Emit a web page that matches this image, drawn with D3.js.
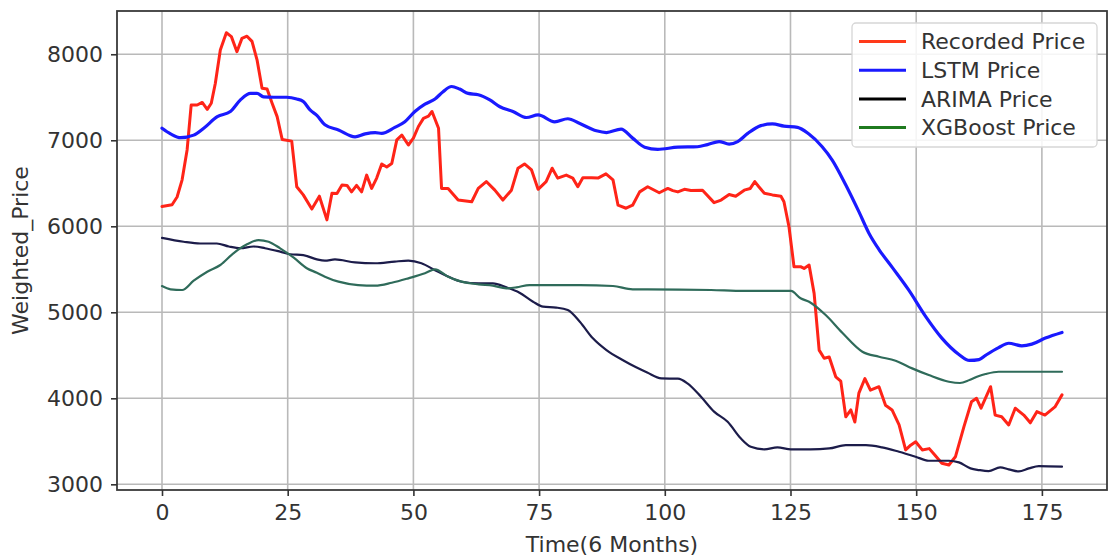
<!DOCTYPE html>
<html>
<head>
<meta charset="utf-8">
<script src="https://cdn.jsdelivr.net/npm/d3@7"></script>
<style>
  body { margin: 0; background: #fff; }
  svg { display: block; font-family: 'DejaVu Sans', sans-serif; }
</style>
</head>
<body>
<svg id="chart"></svg>
<script>
// values (time index, weighted price)
const recordedT = [0,2,3,4,5,5.8,7,8,9,9.8,10.6,11.6,12.8,13.8,14.9,15.9,16.9,17.9,18.9,19.9,20.9,21.9,22.9,23.9,25.8,26.8,28.1,29.8,31.3,32.8,33.8,34.8,35.8,36.8,37.7,38.7,39.7,40.7,41.7,42.7,43.7,44.7,45.7,46.7,47.7,49,50,51,52,53,53.7,55,55.6,56.9,58.9,61.6,62.9,64.5,66.2,67.8,69.5,70.8,72.1,73.5,74.8,76.4,77.6,78.7,80.4,81.7,82.7,83.7,85.4,86.7,88.3,89.7,90.7,92.3,93.6,95,96.6,98.9,100.6,101.6,102.6,103.9,105.2,107.5,109.8,111.2,112.8,114.1,115.8,117,117.9,118.7,119.8,121.4,123.1,123.7,124.7,125.7,127,127.7,128.7,129.7,130.7,131.7,132.7,134,135,136,137,137.8,138.6,139.8,140.9,142.6,143.9,145.2,146.6,147.9,148.9,149.9,151.2,152.6,153.7,155.1,156.5,157.8,159.5,161,162,162.9,164.8,165.7,167,168.4,169.7,171.4,172.7,174,175.6,177.6,179]
const recordedV = [6230,6250,6340,6540,6890,7410,7410,7440,7360,7430,7660,8050,8250,8205,8030,8185,8210,8150,7935,7605,7595,7430,7275,7010,6990,6460,6365,6200,6350,6075,6385,6380,6480,6475,6400,6475,6400,6595,6440,6560,6725,6690,6730,7005,7060,6945,7025,7160,7255,7280,7335,7140,6440,6440,6305,6285,6440,6520,6420,6305,6420,6675,6725,6655,6430,6520,6675,6560,6595,6560,6460,6565,6565,6560,6610,6540,6245,6210,6245,6400,6460,6390,6440,6415,6400,6430,6415,6420,6275,6305,6370,6350,6420,6440,6520,6460,6385,6365,6350,6285,5995,5530,5530,5510,5550,5220,4560,4465,4480,4250,4200,3785,3865,3725,4060,4230,4095,4135,3920,3865,3690,3400,3455,3495,3400,3415,3340,3245,3225,3320,3670,3960,4000,3885,4135,3805,3785,3690,3885,3805,3715,3845,3805,3900,4040]

const lstmT = [0,1.7,3.7,6.3,8.3,11,13.6,15.6,17.6,18.9,20.2,22.2,24.8,26.8,28.1,29.5,30.8,32.4,35.1,38.4,40.4,42.4,43.7,46.3,48.3,50.3,52.3,54.3,55.9,57.6,59.2,60.9,62.9,65.2,67.2,69.8,72.5,74.8,78.1,80.7,83.1,86.4,88.4,91.3,93.6,96,98.6,102.6,106.5,108.5,110.8,112.8,114.5,116.5,119.1,121.4,123.7,126.4,128.6,131.3,133.3,136,138.6,140.6,142.6,145.2,148.5,151.9,155.1,158.5,160.6,162.5,163.8,166.4,168.4,171,173,175.7,179]
const lstmV = [7140,7075,7030,7060,7140,7275,7335,7470,7545,7545,7505,7500,7500,7480,7450,7350,7290,7180,7120,7040,7075,7090,7080,7150,7215,7335,7420,7480,7565,7625,7595,7545,7530,7470,7390,7335,7265,7295,7215,7250,7195,7110,7090,7130,7025,6920,6895,6920,6925,6950,6985,6955,6985,7080,7170,7190,7165,7150,7075,6925,6770,6480,6170,5920,5730,5525,5260,4950,4700,4510,4440,4450,4500,4590,4640,4610,4630,4700,4765]

const arimaT = [0,4.3,7.6,10.9,13.3,15.6,18.2,20.5,23.5,25.5,28.1,30.8,32.4,34.4,38.4,42.4,46.3,49,51.6,54.3,56.9,59.6,63,65.8,68.5,71.1,73.8,75.8,78.4,80.7,83.1,85.7,88.4,91.6,94.3,96.5,99.3,102.6,104.5,107.2,109.8,112.5,115.1,117.1,119.8,122.4,125.1,129,132.7,136,140,143.2,146.6,149.9,152.5,156.5,158.5,160.8,162.5,164.4,166.7,168.4,170.4,172.4,174.4,179]
const arimaV = [5865,5820,5800,5800,5765,5745,5765,5745,5705,5675,5665,5615,5600,5615,5580,5570,5590,5600,5570,5490,5415,5355,5337,5337,5290,5228,5123,5065,5055,5026,4890,4697,4560,4445,4360,4300,4232,4228,4174,4018,3845,3727,3535,3437,3407,3430,3407,3407,3417,3456,3456,3430,3378,3321,3274,3274,3255,3185,3166,3154,3197,3174,3150,3185,3212,3205]

const xgbT = [0,1.7,4,6.3,9,11.6,14.2,16.9,19.2,21.2,23.5,26.2,28.8,30.8,32.4,35.1,39,42.4,45.7,49,52.3,54.3,56.9,59.6,63,65.8,68.5,70.5,73.1,76.4,83.1,89.7,93.6,96.5,109.2,115.8,125.1,127,128.7,132,135.3,139.3,142.6,145.9,149.2,152.5,156.5,158.7,160.6,162.5,163.8,166.4,171.7,179]
const xgbV = [5305,5267,5259,5367,5472,5550,5686,5790,5840,5821,5744,5635,5512,5460,5414,5356,5317,5310,5344,5395,5453,5500,5414,5356,5325,5310,5279,5290,5317,5317,5317,5306,5267,5267,5259,5248,5248,5163,5123,4968,4762,4542,4483,4437,4348,4270,4193,4178,4212,4260,4282,4309,4309,4309]

const seriesNames = ['Recorded Price', 'LSTM Price', 'ARIMA Price', 'XGBoost Price']
const xTicks = [0, 25, 50, 75, 100, 125, 150, 175]
const yTicks = [3000, 4000, 5000, 6000, 7000, 8000]

const W = 1110
const H = 559
const margin = {left: 117, top: 11, right: 3, bottom: 69}
const fontSize = 22
const tickColor = '#333'

let svg = d3.select('#chart').attr('width', W).attr('height', H)

let xScale = d3.scaleLinear().domain([-8.95, 187.95]).range([margin.left, W - margin.right])
let yScale = d3.scaleLinear().domain([2934, 8503]).range([H - margin.bottom, margin.top])

let zip = (ts, vs) => ts.map((t, i) => [t, vs[i]])

let series = [
  {name: seriesNames[0], data: zip(recordedT, recordedV), color: '#ff2418', width: 3, curve: d3.curveLinear},
  {name: seriesNames[1], data: zip(lstmT, lstmV), color: '#1a1aff', width: 3.2, curve: d3.curveMonotoneX},
  {name: seriesNames[2], data: zip(arimaT, arimaV), color: '#1c1c4a', width: 2.2, curve: d3.curveMonotoneX},
  {name: seriesNames[3], data: zip(xgbT, xgbV), color: '#2f6b5a', width: 2.2, curve: d3.curveMonotoneX}
]
let legendColors = ['#ff3a1a', '#1a1aff', '#000000', '#1f7a1f']

// grid
let grid = svg.append('g').classed('grid', true)
grid.selectAll('.vgrid').data(xTicks).enter().append('line')
  .attr('x1', d => xScale(d)).attr('x2', d => xScale(d))
  .attr('y1', margin.top).attr('y2', H - margin.bottom)
  .style('stroke', '#b9b9b9').style('stroke-width', 1.6)
grid.selectAll('.hgrid').data(yTicks).enter().append('line')
  .attr('x1', margin.left).attr('x2', W - margin.right)
  .attr('y1', d => yScale(d)).attr('y2', d => yScale(d))
  .style('stroke', '#b9b9b9').style('stroke-width', 1.6)

// lines
let plot = svg.append('g').classed('lines', true)
series.forEach(s => {
  let lineGenerator = d3.line()
    .x(d => xScale(d[0]))
    .y(d => yScale(d[1]))
    .curve(s.curve)
  plot.append('path')
    .attr('d', lineGenerator(s.data))
    .style('fill', 'none')
    .style('stroke', s.color)
    .style('stroke-width', s.width)
    .style('stroke-linejoin', 'round')
    .style('stroke-linecap', 'round')
})

// frame
svg.append('rect')
  .attr('x', margin.left).attr('y', margin.top)
  .attr('width', W - margin.left - margin.right)
  .attr('height', H - margin.top - margin.bottom)
  .style('fill', 'none').style('stroke', '#3a3a3a').style('stroke-width', 1.8)

// axes
let xAxis = svg.append('g')
  .attr('transform', `translate(0, ${H - margin.bottom})`)
  .call(d3.axisBottom(xScale).tickValues(xTicks).tickSize(6).tickPadding(8).tickFormat(d3.format('d')))
let yAxis = svg.append('g')
  .attr('transform', `translate(${margin.left}, 0)`)
  .call(d3.axisLeft(yScale).tickValues(yTicks).tickSize(6).tickPadding(8).tickFormat(d3.format('d')))
;[xAxis, yAxis].forEach(a => {
  a.select('.domain').remove()
  a.selectAll('.tick line').style('stroke', tickColor).style('stroke-width', 1.6)
  a.selectAll('.tick text')
    .style('font-size', fontSize + 'px')
    .style('font-family', 'DejaVu Sans')
    .style('fill', tickColor)
})

svg.append('text')
  .attr('x', (margin.left + W - margin.right) / 2)
  .attr('y', 552)
  .style('text-anchor', 'middle')
  .style('font-size', fontSize + 'px')
  .style('fill', tickColor)
  .text('Time(6 Months)')
svg.append('text')
  .attr('transform', `translate(28, ${(margin.top + H - margin.bottom) / 2}) rotate(-90)`)
  .style('text-anchor', 'middle')
  .style('font-size', fontSize + 'px')
  .style('fill', tickColor)
  .text('Weighted_Price')

// legend
let legend = svg.append('g').classed('legend', true)
legend.append('rect')
  .attr('x', 852).attr('y', 23).attr('width', 245).attr('height', 124)
  .attr('rx', 4)
  .style('fill', 'rgba(255,255,255,0.85)')
  .style('stroke', '#d6d6d6').style('stroke-width', 1.3)
let items = legend.selectAll('.item').data(seriesNames).enter().append('g')
  .attr('transform', (d, i) => `translate(859, ${41.5 + i * 28.7})`)
items.append('line')
  .attr('x1', 0).attr('x2', 47)
  .style('stroke', (d, i) => legendColors[i])
  .style('stroke-width', 3)
items.append('text')
  .attr('x', 62).attr('dy', '0.35em')
  .style('font-size', fontSize + 'px')
  .style('fill', tickColor)
  .text(d => d)
</script>
</body>
</html>
